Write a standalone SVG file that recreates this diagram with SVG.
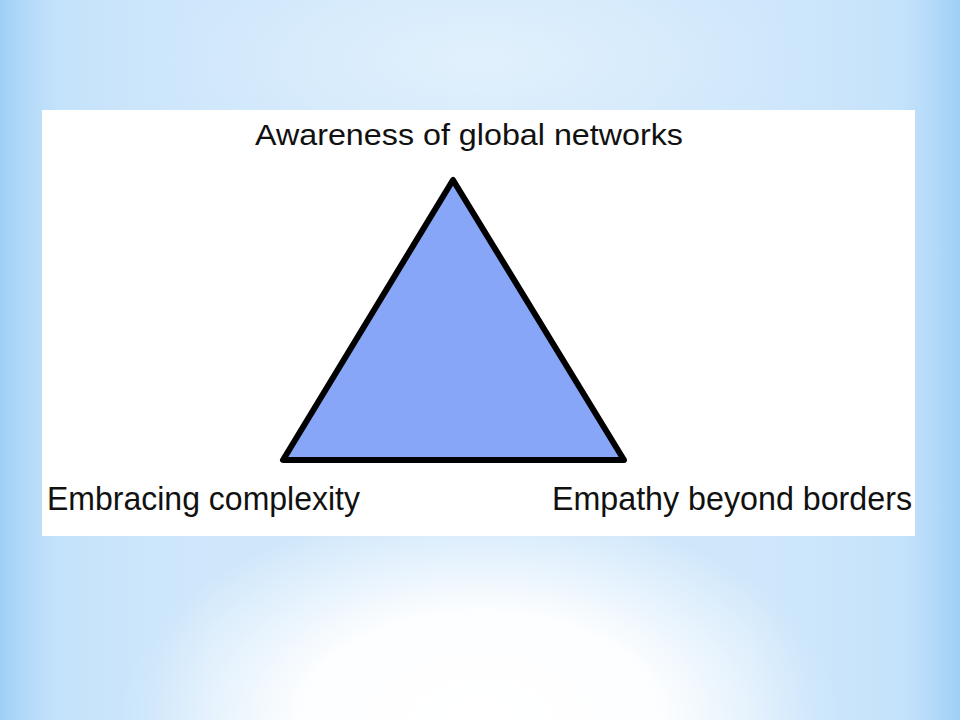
<svg xmlns="http://www.w3.org/2000/svg" width="960" height="720" viewBox="0 0 960 720">
  <defs>
    <linearGradient id="edges" x1="0" y1="0" x2="1" y2="0">
      <stop offset="0" stop-color="#9fcff7" stop-opacity="1"/>
      <stop offset="0.06" stop-color="#bfe0fa" stop-opacity="0.7"/>
      <stop offset="0.22" stop-color="#c8e4fa" stop-opacity="0"/>
      <stop offset="0.78" stop-color="#c8e4fa" stop-opacity="0"/>
      <stop offset="0.94" stop-color="#bfe0fa" stop-opacity="0.7"/>
      <stop offset="1" stop-color="#9fcff7" stop-opacity="1"/>
    </linearGradient>
    <radialGradient id="glow" cx="480" cy="720" r="360" gradientUnits="userSpaceOnUse" gradientTransform="translate(480 720) scale(1 0.6) translate(-480 -720)">
      <stop offset="0" stop-color="#ffffff" stop-opacity="1"/>
      <stop offset="0.5" stop-color="#ffffff" stop-opacity="0.95"/>
      <stop offset="1" stop-color="#ffffff" stop-opacity="0"/>
    </radialGradient>
    <radialGradient id="topglow" cx="480" cy="60" r="320" gradientUnits="userSpaceOnUse" gradientTransform="translate(480 60) scale(1 0.4) translate(-480 -60)">
      <stop offset="0" stop-color="#e6f3fd" stop-opacity="0.8"/>
      <stop offset="1" stop-color="#e6f3fd" stop-opacity="0"/>
    </radialGradient>
    <style>
      .lbl { font-family: "Liberation Sans", "DejaVu Sans", Arial, sans-serif; fill: #111111; }
    </style>
  </defs>
  <g id="background">
    <rect x="0" y="0" width="960" height="720" fill="#cfe7fb"/>
    <rect x="0" y="0" width="960" height="720" fill="url(#topglow)"/>
    <rect x="0" y="0" width="960" height="720" fill="url(#glow)"/>
    <rect x="0" y="0" width="960" height="720" fill="url(#edges)"/>
  </g>
  <g id="panel">
    <rect x="42" y="110" width="873" height="426" fill="#ffffff"/>
  </g>
  <g id="connectors">
    <polygon points="453,180 283,460 624,460" fill="#88a6f8" stroke="#000000" stroke-width="6" stroke-linejoin="round"/>
  </g>
  <g id="node-top">
    <text class="lbl" x="255" y="145" font-size="29" textLength="428" lengthAdjust="spacingAndGlyphs">Awareness of global networks</text>
  </g>
  <g id="node-left">
    <text class="lbl" x="47" y="510" font-size="33" textLength="313" lengthAdjust="spacingAndGlyphs">Embracing complexity</text>
  </g>
  <g id="node-right">
    <text class="lbl" x="552" y="510" font-size="33" textLength="360" lengthAdjust="spacingAndGlyphs">Empathy beyond borders</text>
  </g>
</svg>
